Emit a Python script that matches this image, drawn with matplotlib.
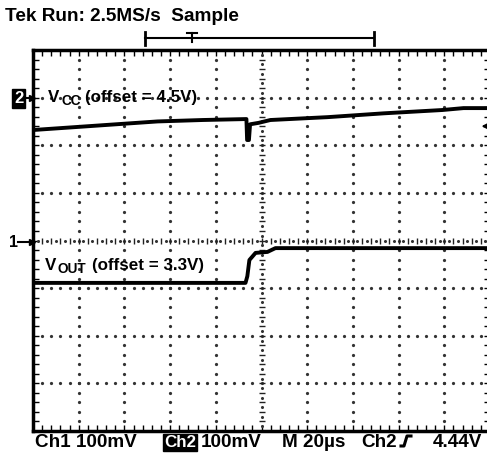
import matplotlib.pyplot as plt
import numpy as np
from matplotlib.lines import Line2D

plt.rcParams['font.family'] = ['Liberation Sans', 'DejaVu Sans']
plt.rcParams['font.weight'] = 'bold'

W, H = 487, 453

# scope settings
volts_per_div = 0.1
ch1_offset = 3.3
ch2_offset = 4.5
ch1_pos = 0.0   # divisions
ch2_pos = 3.0
trig_level = 4.44

# traces (time in us from screen centre, volts)
vcc_t = [-100, -45.5, -25.8, -6.6, -6.3, -5.5, -5.0, -1.3, 3.9, 28.9, 53.4, 79.2, 88.4, 100]
vcc_v = [4.432, 4.450, 4.453, 4.455, 4.411, 4.411, 4.444, 4.447, 4.453, 4.459, 4.467, 4.474, 4.478, 4.478]
vout_t = [-100, -7.0, -6.2, -5.3, -2.6, 2.6, 6.1, 100]
vout_v = [3.211, 3.211, 3.225, 3.259, 3.274, 3.276, 3.284, 3.284]


def to_div(v, offset, pos):
    return (np.array(v) - offset) / volts_per_div + pos


fig = plt.figure(figsize=(W / 100, H / 100), dpi=100)
renderer = fig.canvas.get_renderer()


def put(x, y, s, width=None, size=12, **kw):
    # text at pixel (x, baseline y); if width is given, scale it to that pixel width
    t = fig.text(x / W, 1 - y / H, s, fontsize=size, va='baseline', ha='left', **kw)
    if width:
        bb = t.get_window_extent(renderer)
        t.set_fontsize(size * width / bb.width)
    return t


def seg(xs, ys, **kw):
    fig.add_artist(Line2D([x / W for x in xs], [1 - y / H for y in ys], color='black', **kw))


ax = fig.add_axes([33 / W, 22 / H, 457 / W, 381 / H])
ax.set_xlim(-100, 100)
ax.set_ylim(-4, 4)

# graticule
ax.set_xticks(np.arange(-100, 101, 20))
ax.set_xticks(np.arange(-100, 101, 4), minor=True)
ax.set_yticks(np.arange(-4, 4.1, 1))
ax.set_yticks(np.arange(-4, 4.1, 0.2), minor=True)
ax.tick_params(which='both', direction='in', top=True, right=True,
               labelbottom=False, labelleft=False, length=4, width=1)
for s in ax.spines.values():
    s.set_linewidth(2.5)

gx = np.arange(-80, 81, 20)
gy = np.arange(-3, 3.1, 1)
fine_x = np.arange(-100, 101, 4)
fine_y = np.arange(-4, 4.01, 0.2)
for x in gx:
    if x != 0:
        ax.plot(np.full_like(fine_y, x), fine_y, ls='none', marker='o', ms=1.3, color='#333')
for y in gy:
    if y != 0:
        ax.plot(fine_x, np.full_like(fine_x, y, dtype=float), ls='none', marker='o', ms=1.3, color='#333')
# centre lines with ticks
ax.plot(fine_x, np.zeros_like(fine_x, dtype=float), ls='none', marker='|', ms=5, mew=1, color='#222')
ax.plot(fine_x + 2, np.zeros_like(fine_x, dtype=float), ls='none', marker='o', ms=1.2, color='#333')
ax.plot(np.zeros_like(fine_y), fine_y, ls='none', marker='_', ms=5, mew=1, color='#222')
ax.plot(np.zeros_like(fine_y), fine_y + 0.1, ls='none', marker='o', ms=1.2, color='#333')

# traces
ax.plot(vcc_t, to_div(vcc_v, ch2_offset, ch2_pos), color='black', lw=2.8, solid_joinstyle='round')
ax.plot(vout_t, to_div(vout_v, ch1_offset, ch1_pos), color='black', lw=2.8, solid_joinstyle='round')

# trigger level arrow
lvl = to_div(trig_level, ch2_offset, ch2_pos)
ax.annotate('', xy=(95, lvl), xytext=(100, lvl),
            arrowprops=dict(arrowstyle='-|>', color='black', lw=1.5, mutation_scale=10))

# trace labels
lab = put(85, 102, '(offset = 4.5V)', 112)
fs = lab.get_fontsize()
put(48, 102, 'V', size=fs)
put(61, 105, 'CC', size=fs * 0.8)
put(45, 270, 'V', size=fs)
put(57, 273, 'OUT', size=fs * 0.8)
put(92, 270, '(offset = 3.3V)', size=fs)

# channel markers on the left
put(14, 103, '2', size=12, color='white',
    bbox=dict(boxstyle='square,pad=0.12', fc='black', ec='black'))
seg([26, 32], [98, 98], lw=1.5, marker='>', markevery=[1], ms=4)
put(9, 247, '1', size=11.5)
seg([18, 32], [242, 242], lw=1.5, marker='>', markevery=[1], ms=4)

# header
put(5, 21, 'Tek Run: 2.5MS/s  Sample', 233)
seg([145, 374], [38, 38], lw=1.5)
for xb in (145, 374):
    seg([xb, xb], [32, 45], lw=2)
seg([187, 197], [33, 33], lw=1.5)
seg([192, 192], [33, 42], lw=1.5)

# bottom readout
bot = put(35, 447, 'Ch1 100mV', 101)
bs = bot.get_fontsize()
put(164, 447, 'Ch2', width=32, color='white',
    bbox=dict(boxstyle='square,pad=0.04', fc='black', ec='black'))
put(201, 447, '100mV', size=bs)
put(282, 447, 'M 20\u00b5s', size=bs)
put(361, 447, 'Ch2', size=bs)
seg([401, 404, 407, 411], [446, 446, 436, 436], lw=2.2)
put(433, 447, '4.44V', size=bs)

fig.savefig('out.png', dpi=100)
